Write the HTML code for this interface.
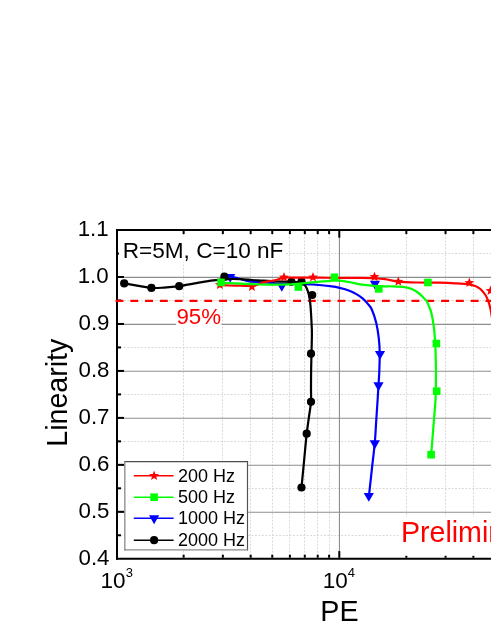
<!DOCTYPE html>
<html><head><meta charset="utf-8"><title>Linearity vs PE</title>
<style>html,body{margin:0;padding:0;background:#fff;}body{width:491px;height:635px;overflow:hidden;font-family:"Liberation Sans", sans-serif;}svg{display:block;will-change:transform;}text{font-family:"Liberation Sans", sans-serif;}</style></head><body>
<svg width="491" height="635" viewBox="0 0 491 635">
<rect width="491" height="635" fill="#fff"/>
<defs><clipPath id="pc"><rect x="117.0" y="230.0" width="379.0" height="328.8"/></clipPath><clipPath id="pc2"><rect x="114.0" y="230.0" width="382.0" height="328.8"/></clipPath></defs>
<g clip-path="url(#pc)">
<g stroke="#d9d9d9" stroke-width="1" stroke-dasharray="1.9 1.55" fill="none">
<line x1="183.50" y1="230.0" x2="183.50" y2="558.8"/>
<line x1="222.50" y1="230.0" x2="222.50" y2="558.8"/>
<line x1="250.50" y1="230.0" x2="250.50" y2="558.8"/>
<line x1="272.50" y1="230.0" x2="272.50" y2="558.8"/>
<line x1="289.50" y1="230.0" x2="289.50" y2="558.8"/>
<line x1="304.50" y1="230.0" x2="304.50" y2="558.8"/>
<line x1="317.50" y1="230.0" x2="317.50" y2="558.8"/>
<line x1="329.50" y1="230.0" x2="329.50" y2="558.8"/>
<line x1="406.50" y1="230.0" x2="406.50" y2="558.8"/>
<line x1="445.50" y1="230.0" x2="445.50" y2="558.8"/>
<line x1="473.50" y1="230.0" x2="473.50" y2="558.8"/>
<line x1="117.0" y1="253.50" x2="493" y2="253.50"/>
<line x1="117.0" y1="300.50" x2="493" y2="300.50"/>
<line x1="117.0" y1="347.50" x2="493" y2="347.50"/>
<line x1="117.0" y1="394.50" x2="493" y2="394.50"/>
<line x1="117.0" y1="441.50" x2="493" y2="441.50"/>
<line x1="117.0" y1="488.50" x2="493" y2="488.50"/>
<line x1="117.0" y1="535.50" x2="493" y2="535.50"/>
</g>
<g stroke="#8e8e8e" stroke-width="1.1" fill="none">
<line x1="339.45" y1="230.0" x2="339.45" y2="558.8"/>
<line x1="117.0" y1="277.40" x2="493" y2="277.40"/>
<line x1="117.0" y1="324.36" x2="493" y2="324.36"/>
<line x1="117.0" y1="371.32" x2="493" y2="371.32"/>
<line x1="117.0" y1="418.28" x2="493" y2="418.28"/>
<line x1="117.0" y1="465.24" x2="493" y2="465.24"/>
<line x1="117.0" y1="512.20" x2="493" y2="512.20"/>
</g>
</g>
<g stroke="#000" stroke-width="2" fill="none" stroke-linecap="butt">
<line x1="117.00" y1="229.00" x2="117.00" y2="559.80"/>
<line x1="116.00" y1="230.00" x2="493" y2="230.00"/>
<line x1="116.00" y1="558.80" x2="493" y2="558.80"/>
<line x1="118.00" y1="253.52" x2="121.00" y2="253.52"/>
<line x1="118.00" y1="277.00" x2="124.00" y2="277.00"/>
<line x1="118.00" y1="300.48" x2="121.00" y2="300.48"/>
<line x1="118.00" y1="323.96" x2="124.00" y2="323.96"/>
<line x1="118.00" y1="347.44" x2="121.00" y2="347.44"/>
<line x1="118.00" y1="370.92" x2="124.00" y2="370.92"/>
<line x1="118.00" y1="394.40" x2="121.00" y2="394.40"/>
<line x1="118.00" y1="417.88" x2="124.00" y2="417.88"/>
<line x1="118.00" y1="441.36" x2="121.00" y2="441.36"/>
<line x1="118.00" y1="464.84" x2="124.00" y2="464.84"/>
<line x1="118.00" y1="488.32" x2="121.00" y2="488.32"/>
<line x1="118.00" y1="511.80" x2="124.00" y2="511.80"/>
<line x1="118.00" y1="535.28" x2="121.00" y2="535.28"/>
<line x1="183.64" y1="231.00" x2="183.64" y2="234.10"/>
<line x1="183.64" y1="557.80" x2="183.64" y2="554.70"/>
<line x1="222.85" y1="231.00" x2="222.85" y2="234.10"/>
<line x1="222.85" y1="557.80" x2="222.85" y2="554.70"/>
<line x1="250.68" y1="231.00" x2="250.68" y2="234.10"/>
<line x1="250.68" y1="557.80" x2="250.68" y2="554.70"/>
<line x1="272.26" y1="231.00" x2="272.26" y2="234.10"/>
<line x1="272.26" y1="557.80" x2="272.26" y2="554.70"/>
<line x1="289.89" y1="231.00" x2="289.89" y2="234.10"/>
<line x1="289.89" y1="557.80" x2="289.89" y2="554.70"/>
<line x1="304.80" y1="231.00" x2="304.80" y2="234.10"/>
<line x1="304.80" y1="557.80" x2="304.80" y2="554.70"/>
<line x1="317.72" y1="231.00" x2="317.72" y2="234.10"/>
<line x1="317.72" y1="557.80" x2="317.72" y2="554.70"/>
<line x1="329.11" y1="231.00" x2="329.11" y2="234.10"/>
<line x1="329.11" y1="557.80" x2="329.11" y2="554.70"/>
<line x1="339.30" y1="231.00" x2="339.30" y2="237.70"/>
<line x1="339.30" y1="557.80" x2="339.30" y2="551.10"/>
<line x1="406.34" y1="231.00" x2="406.34" y2="234.10"/>
<line x1="406.34" y1="557.80" x2="406.34" y2="554.70"/>
<line x1="445.55" y1="231.00" x2="445.55" y2="234.10"/>
<line x1="445.55" y1="557.80" x2="445.55" y2="554.70"/>
<line x1="473.38" y1="231.00" x2="473.38" y2="234.10"/>
<line x1="473.38" y1="557.80" x2="473.38" y2="554.70"/>
</g>
<g clip-path="url(#pc2)">
<line x1="115.5" y1="300.90" x2="511" y2="300.90" stroke="#ff0000" stroke-width="2.1" stroke-dasharray="7.9 6.9"/>
<g stroke="#0000ff" fill="none" stroke-width="2.2" stroke-linejoin="round" stroke-linecap="butt"><path d="M230.20 276.90 C231.17 277.03 234.03 277.27 236.00 277.70 C237.97 278.13 240.00 278.92 242.00 279.50 C244.00 280.08 245.83 280.78 248.00 281.20 C250.17 281.62 252.52 281.82 255.00 282.00 C257.48 282.18 260.07 282.15 262.90 282.30 C265.73 282.45 269.60 282.68 272.00 282.90 C274.40 283.12 274.78 283.43 277.30 283.60 C279.82 283.77 282.82 283.80 287.10 283.90 C291.38 284.00 297.70 284.02 303.00 284.20 C308.30 284.38 314.42 284.67 318.90 285.00 C323.38 285.33 326.43 285.72 329.90 286.20 C333.37 286.68 336.45 287.15 339.70 287.90 C342.95 288.65 346.55 289.62 349.40 290.70 C352.25 291.78 354.55 293.07 356.80 294.40 C359.05 295.73 361.07 297.12 362.90 298.70 C364.73 300.28 366.30 302.07 367.80 303.90 C369.30 305.73 370.50 306.57 371.90 309.70 C373.30 312.83 375.05 317.93 376.20 322.70 C377.35 327.47 378.22 333.38 378.80 338.30 C379.38 343.22 379.62 346.70 379.70 352.20 C379.78 357.70 379.50 365.80 379.30 371.30 C379.10 376.80 378.78 380.42 378.50 385.20 C378.22 389.98 377.98 394.00 377.60 400.00 C377.22 406.00 376.67 414.12 376.20 421.20 C375.73 428.28 375.53 434.40 374.80 442.50 C374.07 450.60 372.80 460.70 371.80 469.80 C370.80 478.90 369.30 492.55 368.80 497.10"/></g><g fill="#0000ff" stroke="none"><polygon points="225.10,274.07 235.30,274.07 230.20,282.87"/><polygon points="276.70,282.97 286.90,282.97 281.80,291.77"/><polygon points="369.90,280.87 380.10,280.87 375.00,289.67"/><polygon points="374.90,351.07 385.10,351.07 380.00,359.87"/><polygon points="373.40,382.37 383.60,382.37 378.50,391.17"/><polygon points="369.70,440.37 379.90,440.37 374.80,449.17"/><polygon points="363.70,493.07 373.90,493.07 368.80,501.87"/></g>
<g stroke="#000000" fill="none" stroke-width="2.2" stroke-linejoin="round" stroke-linecap="butt"><path d="M124.20 283.40 C126.33 283.77 132.47 284.85 137.00 285.60 C141.53 286.35 146.92 287.57 151.40 287.90 C155.88 288.23 159.27 287.88 163.90 287.60 C168.53 287.32 174.12 286.90 179.20 286.20 C184.28 285.50 189.82 284.22 194.40 283.40 C198.98 282.58 203.03 281.85 206.70 281.30 C210.37 280.75 213.45 280.42 216.40 280.10 C219.35 279.78 221.80 279.58 224.40 279.40 C227.00 279.22 229.40 279.03 232.00 279.00 C234.60 278.97 237.27 279.08 240.00 279.20 C242.73 279.32 245.40 279.50 248.40 279.70 C251.40 279.90 254.75 280.20 258.00 280.40 C261.25 280.60 264.90 280.73 267.90 280.90 C270.90 281.07 273.17 281.28 276.00 281.40 C278.83 281.52 282.33 281.53 284.90 281.60 C287.47 281.67 289.22 281.70 291.40 281.80 C293.58 281.90 296.15 281.92 298.00 282.20 C299.85 282.48 301.27 282.90 302.50 283.50 C303.73 284.10 304.50 284.50 305.40 285.80 C306.30 287.10 307.18 289.15 307.90 291.30 C308.62 293.45 309.25 296.08 309.70 298.70 C310.15 301.32 310.28 302.77 310.60 307.00 C310.92 311.23 311.38 319.53 311.60 324.10 C311.82 328.67 311.92 329.47 311.90 334.40 C311.88 339.33 311.63 347.53 311.50 353.70 C311.37 359.87 311.18 365.35 311.10 371.40 C311.02 377.45 311.02 384.93 311.00 390.00 C310.98 395.07 311.36 397.18 311.00 401.80 C310.64 406.42 309.57 412.38 308.85 417.70 C308.13 423.02 307.49 426.55 306.70 433.70 C305.91 440.85 304.97 451.63 304.10 460.60 C303.23 469.57 301.93 483.02 301.50 487.50"/></g><g fill="#000000" stroke="none"><circle cx="124.20" cy="283.40" r="4.10"/><circle cx="151.40" cy="287.90" r="4.10"/><circle cx="179.20" cy="286.20" r="4.10"/><circle cx="224.40" cy="276.70" r="4.10"/><circle cx="291.40" cy="281.80" r="4.10"/><circle cx="301.50" cy="281.60" r="4.10"/><circle cx="312.20" cy="295.00" r="4.10"/><circle cx="311.00" cy="353.70" r="4.10"/><circle cx="311.00" cy="401.80" r="4.10"/><circle cx="306.70" cy="433.70" r="4.10"/><circle cx="301.50" cy="487.50" r="4.10"/></g>
<g stroke="#ff0000" fill="none" stroke-width="2.2" stroke-linejoin="round" stroke-linecap="butt"><path d="M219.90 285.20 C222.42 285.27 229.68 285.48 235.00 285.60 C240.32 285.72 248.30 285.98 251.80 285.90 C255.30 285.82 254.72 285.45 256.00 285.10 C257.28 284.75 258.35 284.25 259.50 283.80 C260.65 283.35 261.48 282.80 262.90 282.40 C264.32 282.00 265.83 281.78 268.00 281.40 C270.17 281.02 273.23 280.72 275.90 280.10 C278.57 279.48 279.98 278.12 284.00 277.70 C288.02 277.28 294.00 277.60 300.00 277.60 C306.00 277.60 313.33 277.65 320.00 277.70 C326.67 277.75 333.05 277.87 340.00 277.90 C346.95 277.93 356.03 277.85 361.70 277.90 C367.37 277.95 370.13 278.00 374.00 278.20 C377.87 278.40 380.85 278.53 384.90 279.10 C388.95 279.67 393.00 281.03 398.30 281.60 C403.60 282.17 409.77 282.32 416.70 282.50 C423.63 282.68 433.45 282.57 439.90 282.70 C446.35 282.83 450.55 283.03 455.40 283.30 C460.25 283.57 465.70 283.85 469.00 284.30 C472.30 284.75 473.63 285.43 475.20 286.00 C476.77 286.57 477.33 287.00 478.40 287.70 C479.47 288.40 480.40 288.95 481.60 290.20 C482.80 291.45 484.48 293.37 485.60 295.20 C486.72 297.03 487.48 298.90 488.30 301.20 C489.12 303.50 489.80 305.53 490.50 309.00 C491.20 312.47 491.92 316.83 492.50 322.00 C493.08 327.17 493.75 337.00 494.00 340.00"/></g><g fill="#ff0000" stroke="none"><polygon points="219.90,279.70 221.21,283.09 224.85,283.29 222.03,285.59 222.96,289.11 219.90,287.14 216.84,289.11 217.77,285.59 214.95,283.29 218.59,283.09"/><polygon points="251.90,281.50 253.21,284.89 256.85,285.09 254.03,287.39 254.96,290.91 251.90,288.94 248.84,290.91 249.77,287.39 246.95,285.09 250.59,284.89"/><polygon points="284.00,272.10 285.31,275.49 288.95,275.69 286.13,277.99 287.06,281.51 284.00,279.54 280.94,281.51 281.87,277.99 279.05,275.69 282.69,275.49"/><polygon points="313.00,272.10 314.31,275.49 317.95,275.69 315.13,277.99 316.06,281.51 313.00,279.54 309.94,281.51 310.87,277.99 308.05,275.69 311.69,275.49"/><polygon points="374.50,271.70 375.81,275.09 379.45,275.29 376.63,277.59 377.56,281.11 374.50,279.14 371.44,281.11 372.37,277.59 369.55,275.29 373.19,275.09"/><polygon points="398.30,276.40 399.61,279.79 403.25,279.99 400.43,282.29 401.36,285.81 398.30,283.84 395.24,285.81 396.17,282.29 393.35,279.99 396.99,279.79"/><polygon points="469.30,277.60 470.61,280.99 474.25,281.19 471.43,283.49 472.36,287.01 469.30,285.04 466.24,287.01 467.17,283.49 464.35,281.19 467.99,280.99"/><polygon points="490.50,285.60 491.81,288.99 495.45,289.19 492.63,291.49 493.56,295.01 490.50,293.04 487.44,295.01 488.37,291.49 485.55,289.19 489.19,288.99"/></g>
<g stroke="#00ff00" fill="none" stroke-width="2.2" stroke-linejoin="round" stroke-linecap="butt"><path d="M221.00 282.80 C223.33 282.90 229.90 283.18 235.00 283.40 C240.10 283.62 245.77 283.88 251.60 284.10 C257.43 284.32 263.88 284.65 270.00 284.70 C276.12 284.75 282.18 284.72 288.30 284.40 C294.42 284.08 301.42 283.27 306.70 282.80 C311.98 282.33 316.13 281.92 320.00 281.60 C323.87 281.28 327.50 281.07 329.90 280.90 C332.30 280.73 332.77 280.63 334.40 280.60 C336.03 280.57 337.20 280.43 339.70 280.70 C342.20 280.97 345.73 281.55 349.40 282.20 C353.07 282.85 357.62 284.00 361.70 284.60 C365.78 285.20 370.03 285.52 373.90 285.80 C377.77 286.08 381.85 286.22 384.90 286.30 C387.95 286.38 388.95 286.18 392.20 286.30 C395.45 286.43 401.13 286.62 404.40 287.05 C407.67 287.48 409.55 287.99 411.80 288.90 C414.05 289.81 416.10 291.18 417.90 292.50 C419.70 293.82 421.15 295.37 422.60 296.80 C424.05 298.23 425.48 299.40 426.60 301.10 C427.72 302.80 428.53 305.13 429.30 307.00 C430.07 308.87 430.50 309.38 431.20 312.30 C431.90 315.22 432.87 319.87 433.50 324.50 C434.13 329.13 434.60 333.45 435.00 340.10 C435.40 346.75 435.75 357.47 435.90 364.40 C436.05 371.33 435.97 375.77 435.90 381.70 C435.83 387.63 435.93 392.40 435.50 400.00 C435.07 407.60 434.07 418.20 433.35 427.30 C432.63 436.40 431.56 450.05 431.20 454.60"/></g><g fill="#00ff00" stroke="none"><rect x="217.20" y="278.60" width="7.60" height="7.60"/><rect x="294.60" y="283.25" width="7.60" height="7.60"/><rect x="330.60" y="273.50" width="7.60" height="7.60"/><rect x="375.00" y="285.10" width="7.60" height="7.60"/><rect x="424.10" y="278.70" width="7.60" height="7.60"/><rect x="432.60" y="339.70" width="7.60" height="7.60"/><rect x="432.90" y="387.40" width="7.60" height="7.60"/><rect x="427.30" y="450.90" width="7.60" height="7.60"/></g>
<rect x="119" y="236.5" width="165.5" height="26" fill="#fff"/>
<rect x="176.1" y="302.4" width="45.3" height="25.4" fill="#fff"/>
<rect x="399.8" y="516.8" width="120" height="39" fill="#fff"/>
</g>
<text x="122.7" y="257.5" font-size="22.6" fill="#000">R=5M, C=10 nF</text>
<text x="176.4" y="324.2" font-size="22.3" fill="#ff0000">95%</text>
<text x="400.9" y="542.4" font-size="28.6" fill="#ff0000">Preliminary</text>
<rect x="124.85" y="461.6" width="122.65" height="88.3" fill="#fff"/><g fill="none" stroke-width="1.15" stroke-linecap="square"><line x1="124.85" y1="461.6" x2="247.5" y2="461.6" stroke="#4c4c4c"/><line x1="247.5" y1="461.6" x2="247.5" y2="549.9" stroke="#505050"/><line x1="124.85" y1="549.9" x2="247.5" y2="549.9" stroke="#8c8c8c"/><line x1="124.85" y1="461.6" x2="124.85" y2="549.9" stroke="#787878"/></g>
<line x1="133.8" y1="475.70" x2="173.6" y2="475.70" stroke="#ff0000" stroke-width="1.6"/>
<g fill="#ff0000"><polygon points="154.10,470.50 155.41,473.89 159.05,474.09 156.23,476.39 157.16,479.91 154.10,477.94 151.04,479.91 151.97,476.39 149.15,474.09 152.79,473.89"/></g>
<text x="178.0" y="481.90" font-size="18" fill="#000">200 Hz</text>
<line x1="133.8" y1="497.20" x2="173.6" y2="497.20" stroke="#00ff00" stroke-width="1.6"/>
<g fill="#00ff00"><rect x="150.30" y="493.40" width="7.60" height="7.60"/></g>
<text x="178.0" y="503.20" font-size="18" fill="#000">500 Hz</text>
<line x1="133.8" y1="518.30" x2="173.6" y2="518.30" stroke="#0000ff" stroke-width="1.6"/>
<g fill="#0000ff"><polygon points="149.00,515.37 159.20,515.37 154.10,524.17"/></g>
<text x="178.0" y="524.40" font-size="18" fill="#000">1000 Hz</text>
<line x1="133.8" y1="540.20" x2="173.6" y2="540.20" stroke="#000000" stroke-width="1.6"/>
<g fill="#000000"><circle cx="154.10" cy="540.20" r="4.10"/></g>
<text x="178.0" y="545.80" font-size="18" fill="#000">2000 Hz</text>
<text x="108.7" y="236.29" font-size="22.3" text-anchor="end" fill="#000">1.1</text>
<text x="108.7" y="283.25" font-size="22.3" text-anchor="end" fill="#000">1.0</text>
<text x="109.5" y="330.21" font-size="22.3" text-anchor="end" fill="#000">0.9</text>
<text x="109.5" y="377.17" font-size="22.3" text-anchor="end" fill="#000">0.8</text>
<text x="109.5" y="424.13" font-size="22.3" text-anchor="end" fill="#000">0.7</text>
<text x="109.5" y="471.09" font-size="22.3" text-anchor="end" fill="#000">0.6</text>
<text x="109.5" y="518.05" font-size="22.3" text-anchor="end" fill="#000">0.5</text>
<text x="109.5" y="565.01" font-size="22.3" text-anchor="end" fill="#000">0.4</text>
<text x="100.6" y="587.5" font-size="22.5" fill="#000">10<tspan font-size="13" dy="-10.4">3</tspan></text>
<text x="322.8" y="587.5" font-size="22.5" fill="#000">10<tspan font-size="13" dy="-10.4">4</tspan></text>
<text x="339.5" y="621.0" font-size="28.7" text-anchor="middle" fill="#000">PE</text>
<text transform="translate(67.3 392.7) rotate(-90)" font-size="28.6" text-anchor="middle" fill="#000">Linearity</text>
</svg></body></html>
